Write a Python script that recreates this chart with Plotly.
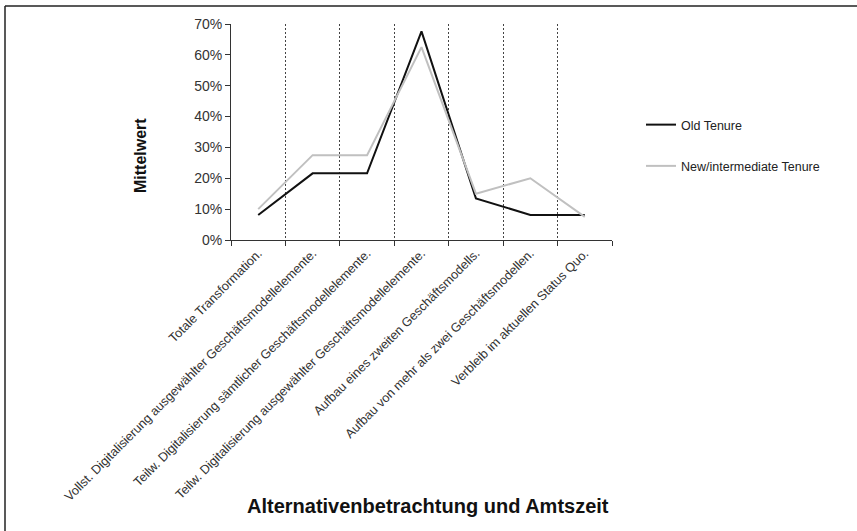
import plotly.graph_objects as go

# categories on the x axis
categories = [
    "Totale Transformation.",
    "Vollst. Digitalisierung ausgewählter Geschäftsmodellelemente.",
    "Teilw. Digitalisierung sämtlicher Geschäftsmodellelemente.",
    "Teilw. Digitalisierung ausgewählter Geschäftsmodellelemente.",
    "Aufbau eines zweiten Geschäftsmodells.",
    "Aufbau von mehr als zwei Geschäftsmodellen.",
    "Verbleib im aktuellen Status Quo.",
]

# mean values (share) per tenure group
old_tenure = [0.081, 0.216, 0.216, 0.676, 0.135, 0.081, 0.081]
new_tenure = [0.10, 0.275, 0.275, 0.625, 0.15, 0.20, 0.075]

FONT = "Arial, Liberation Sans, sans-serif"

# plot area in pixels (used to place border / titles in paper coords)
W, H = 857, 531
L, R, T, B = 231, 245, 24, 291
pw, ph = W - L - R, H - T - B


def px_x(x):
    return (x - L) / pw


def px_y(y):
    return (H - B - y) / ph


fig = go.Figure()
fig.add_trace(go.Scatter(
    x=categories, y=old_tenure, mode="lines", name="Old Tenure",
    line=dict(color="#111111", width=2), legendgroup="old"
))
fig.add_trace(go.Scatter(
    x=categories, y=new_tenure, mode="lines", name="New/intermediate Tenure",
    line=dict(color="#c0c0c0", width=2), legendgroup="new"
))

fig.update_layout(
    width=W, height=H,
    margin=dict(l=L, r=R, t=T, b=B, autoexpand=False),
    paper_bgcolor="white", plot_bgcolor="white",
    font=dict(family=FONT, color="#333333"),
    showlegend=True,
    legend=dict(
        x=px_x(641), y=px_y(110), xanchor="left", yanchor="top",
        traceorder="grouped", tracegroupgap=22,
        font=dict(size=12.5, color="#222222"),
        bgcolor="rgba(0,0,0,0)",
    ),
    xaxis=dict(
        type="category", range=[-0.5, 6.5],
        tickson="boundaries", ticks="outside", ticklen=5,
        tickcolor="#333333",
        showline=True, linecolor="#333333", linewidth=1,
        showgrid=True, gridcolor="#444444", gridwidth=1, griddash="2px,2px",
        tickangle=-45, tickfont=dict(size=12.7, color="#333333"),
        zeroline=False,
    ),
    yaxis=dict(
        range=[0, 0.7], dtick=0.1, tickformat=".0%",
        ticks="outside", ticklen=5, tickcolor="#333333",
        showline=True, linecolor="#333333", linewidth=1,
        showgrid=False, zeroline=False,
        tickfont=dict(size=14, color="#333333"),
    ),
    annotations=[
        dict(text="<b>Mittelwert</b>", textangle=-90,
             x=px_x(140), y=px_y(156), xref="paper", yref="paper",
             xanchor="center", yanchor="middle",
             showarrow=False, font=dict(size=16, color="#111111")),
        dict(text="<b>Alternativenbetrachtung und Amtszeit</b>",
             x=px_x(428), y=px_y(506), xref="paper", yref="paper",
             xanchor="center", yanchor="middle",
             showarrow=False, font=dict(size=20, color="#111111")),
    ],
    shapes=[
        dict(type="line", xref="paper", yref="paper",
             x0=px_x(5), x1=px_x(5), y0=px_y(6), y1=px_y(540),
             line=dict(color="#222222", width=1.5)),
        dict(type="line", xref="paper", yref="paper",
             x0=px_x(5), x1=px_x(870), y0=px_y(6), y1=px_y(6),
             line=dict(color="#222222", width=1.5)),
    ],
)

# drop the default page margin so the figure sits at the window's corner
fig.write_html(
    "out.html",
    config={"displayModeBar": False},
    post_script="document.body.style.margin='0';",
)
